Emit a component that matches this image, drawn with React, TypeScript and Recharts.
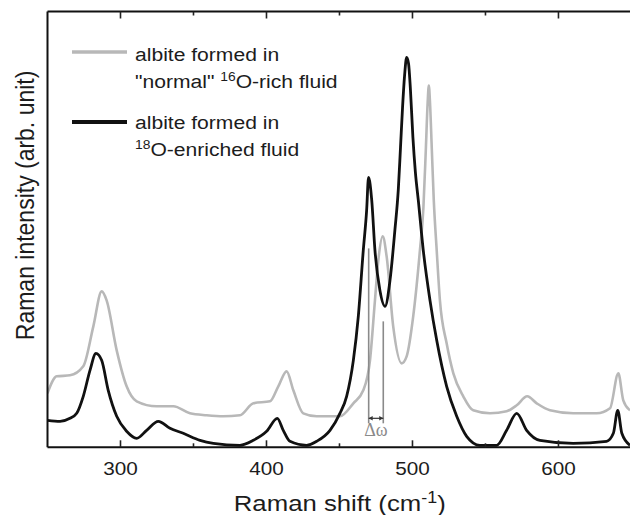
import React from 'react';
import { LineChart, Line, XAxis, YAxis, ReferenceLine, Customized, Label } from 'recharts';

// ---------- data (Raman shift in cm-1, intensity in arbitrary units) ----------
const grayShift = [250, 256.3, 265.4, 274.5, 281.4, 287.1, 290.5, 297.4, 304.2, 311.1, 324.8, 336.2, 347.6, 359, 370.4, 381.8, 391, 402.4, 408.1, 413.8, 418.4, 425.2, 434.4, 450.3, 459.5, 466.3, 470.9, 474.3, 476.6, 479.6, 482.3, 486.8, 492.6, 496, 500.5, 505.1, 507.5, 509.2, 510.4, 511.2, 512, 513.2, 514.6, 516.6, 518.8, 523.4, 528, 534.8, 541.6, 553.1, 564.5, 571.4, 578.6, 585.1, 594.2, 610.1, 626.2, 635.3, 641, 644.4, 649];
const grayIntensity = [54, 71, 72, 81, 121, 156, 147, 97, 61, 46, 41, 41, 34, 32, 31, 32, 44, 46, 61, 76, 57, 34, 31, 31, 44, 57, 87, 147, 187, 211, 191, 121, 84, 91, 131, 197, 240, 300, 345, 362, 345, 300, 247, 197, 147, 104, 74, 51, 37, 34, 36, 42, 51, 44, 37, 34, 34, 39, 74, 47, 37];

const blackShift = [250, 258.6, 265.4, 270, 274.5, 279.1, 283.2, 287.1, 291.6, 297.4, 304.2, 311.1, 317.9, 325.9, 333.9, 343, 354.5, 363.6, 381.8, 391, 400.1, 407.4, 411.5, 416.1, 427.5, 434.4, 443.5, 450.3, 454.9, 459.5, 462.9, 466.3, 468.6, 469.9, 472.1, 474.3, 477.7, 481.2, 484.6, 488, 490.3, 491.8, 493.2, 494.6, 496, 497.3, 498.6, 500.3, 502, 504, 507.4, 512, 516.6, 523.4, 530.3, 537.1, 546.2, 557.7, 564.5, 571.4, 578.2, 587.3, 610.1, 633, 637.6, 640.6, 643.4, 649];
const blackIntensity = [27, 26, 29, 34, 51, 77, 94, 87, 57, 31, 16, 9, 17, 26, 19, 14, 7, 4, 2, 7, 16, 29, 17, 6, 2, 6, 17, 34, 51, 87, 131, 197, 237, 270, 247, 197, 157, 141, 167, 218, 258, 300, 340, 372, 390, 384, 358, 310, 275, 247, 197, 147, 107, 61, 31, 11, 2, 2, 17, 34, 17, 7, 4, 6, 14, 37, 14, 2];

const xDomain = [250, 649];
const yDomain = [0, 436];
const xTicks = [300, 350, 400, 450, 500, 550, 600];
const xMajorTicks = [300, 400, 500, 600];

const legendGray = ['albite formed in', '"normal" ', '16', 'O-rich fluid'];
const legendBlack = ['albite formed in', '', '18', 'O-enriched fluid'];

const deltaShifts = [470, 480];
const deltaTops = [199, 126];
const deltaBottom = 24;
const deltaArrowLevel = 29;
const deltaLabel = 'Δω';

const xLabelMain = 'Raman shift (cm';
const xLabelSup = '-1';
const xLabelEnd = ')';
const yLabel = 'Raman intensity (arb. unit)';

// ---------- styles ----------
const FONT = '"Liberation Sans", Arial, Helvetica, sans-serif';
const SX = 1.12;
const GRAY = '#b8b8b8';
const BLACK = '#111111';
const TEXT = '#1c1c1c';

const grayData = grayShift.map((s, i) => ({ shift: s, intensity: grayIntensity[i] }));
const blackData = blackShift.map((s, i) => ({ shift: s, intensity: blackIntensity[i] }));

function BottomTick(props: any) {
  const { x, y, payload } = props;
  const v = payload.value;
  const major = xMajorTicks.includes(v);
  return (
    <g>
      <line x1={x} y1={y} x2={x} y2={y - (major ? 7 : 4)} stroke="#222" strokeWidth={1.6} />
      {major && (
        <g transform={`translate(${x} ${y + 28}) scale(${SX} 1)`}>
          <text textAnchor="middle" fontSize={18.5} fontFamily={FONT} fill={TEXT}>{v}</text>
        </g>
      )}
    </g>
  );
}

function TopTick(props: any) {
  const { x, y, payload } = props;
  const major = xMajorTicks.includes(payload.value);
  return <line x1={x} y1={y} x2={x} y2={y + (major ? 7 : 4)} stroke="#222" strokeWidth={1.6} />;
}

function LegendBlock() {
  const rows = [
    { color: GRAY, width: 3.5, lineY: 52, base: 60.5, parts: legendGray },
    { color: BLACK, width: 4, lineY: 122, base: 128.5, parts: legendBlack },
  ];
  return (
    <g fontFamily={FONT} fill={TEXT}>
      {rows.map((r, i) => (
        <g key={i}>
          <line x1={72} y1={r.lineY} x2={127} y2={r.lineY} stroke={r.color} strokeWidth={r.width} />
          <g transform={`translate(135 ${r.base}) scale(1.11 1)`}>
            <text fontSize={19}>{r.parts[0]}</text>
          </g>
          <g transform={`translate(135 ${r.base + 27}) scale(1.11 1)`}>
            <text fontSize={19}>
              {r.parts[1]}
              <tspan fontSize={12.5} dy={-7}>{r.parts[2]}</tspan>
              <tspan dy={7}>{r.parts[3]}</tspan>
            </text>
          </g>
        </g>
      ))}
    </g>
  );
}

function ArrowShape(props: any) {
  const { x1, y1, x2 } = props;
  const a = 4;
  return (
    <g>
      <line x1={x1} y1={y1} x2={x2} y2={y1} stroke="#333" strokeWidth={1.2} />
      <path d={`M${x1} ${y1} l${a} ${-2.2} l0 4.4 Z`} fill="#333" />
      <path d={`M${x2} ${y1} l${-a} ${-2.2} l0 4.4 Z`} fill="#333" />
      <text x={(x1 + x2) / 2} y={y1 + 18} textAnchor="middle" fontSize={18} fontFamily='"Liberation Serif", "DejaVu Serif", serif' fill="#8a8a8a">
        {deltaLabel}
      </text>
    </g>
  );
}

function XLabel(props: any) {
  const { viewBox } = props;
  const cx = viewBox.x + viewBox.width / 2 + 1;
  const by = viewBox.y + 63.5;
  return (
    <g transform={`translate(${cx} ${by}) scale(${SX} 1)`}>
      <text textAnchor="middle" fontSize={23} fontFamily={FONT} fill={TEXT}>
        {xLabelMain}
        <tspan fontSize={16} dy={-8}>{xLabelSup}</tspan>
        <tspan dy={8}>{xLabelEnd}</tspan>
      </text>
    </g>
  );
}

function YLabel(props: any) {
  const { viewBox } = props;
  const cy = viewBox.y + viewBox.height / 2 - 24;
  return (
    <g transform={`translate(34 ${cy}) scale(1.15 1) rotate(-90)`}>
      <text textAnchor="middle" fontSize={23} fontFamily={FONT} fill={TEXT}>{yLabel}</text>
    </g>
  );
}

export default function App() {
  return (
    <div style={{ position: 'absolute', left: 0, top: 0, width: 630, height: 515, background: '#fff' }}>
      <LineChart width={630} height={515} margin={{ top: 10.5, right: 0, bottom: 27.7, left: 46.5 }}>
        <XAxis
          xAxisId="bottom"
          type="number"
          dataKey="shift"
          domain={xDomain}
          ticks={xTicks}
          allowDataOverflow
          height={40}
          tickSize={0}
          tickMargin={0}
          tickLine={false}
          tick={<BottomTick />}
          axisLine={{ stroke: '#111', strokeWidth: 2 }}
        >
          <Label content={<XLabel />} />
        </XAxis>
        <XAxis
          xAxisId="top"
          orientation="top"
          type="number"
          dataKey="shift"
          domain={xDomain}
          ticks={xTicks}
          allowDataOverflow
          height={1}
          tickSize={0}
          tickMargin={0}
          tickLine={false}
          tick={<TopTick />}
          axisLine={{ stroke: '#111', strokeWidth: 2 }}
        />
        <YAxis
          type="number"
          domain={yDomain}
          allowDataOverflow
          width={1}
          tick={false}
          tickLine={false}
          axisLine={{ stroke: '#111', strokeWidth: 2 }}
        >
          <Label content={<YLabel />} />
        </YAxis>
        <Line
          xAxisId="bottom"
          data={grayData}
          dataKey="intensity"
          type="monotone"
          stroke={GRAY}
          strokeWidth={2.6}
          dot={false}
          isAnimationActive={false}
        />
        <Line
          xAxisId="bottom"
          data={blackData}
          dataKey="intensity"
          type="monotone"
          stroke={BLACK}
          strokeWidth={2.8}
          dot={false}
          isAnimationActive={false}
        />
        {deltaShifts.map((s, i) => (
          <ReferenceLine
            key={i}
            xAxisId="bottom"
            segment={[{ x: s, y: deltaTops[i] }, { x: s, y: deltaBottom }]}
            stroke="#8a8a8a"
            strokeWidth={1.6}
          />
        ))}
        <ReferenceLine
          xAxisId="bottom"
          segment={[{ x: deltaShifts[0], y: deltaArrowLevel }, { x: deltaShifts[1], y: deltaArrowLevel }]}
          shape={<ArrowShape />}
        />
        <Customized component={LegendBlock} />
      </LineChart>
    </div>
  );
}
